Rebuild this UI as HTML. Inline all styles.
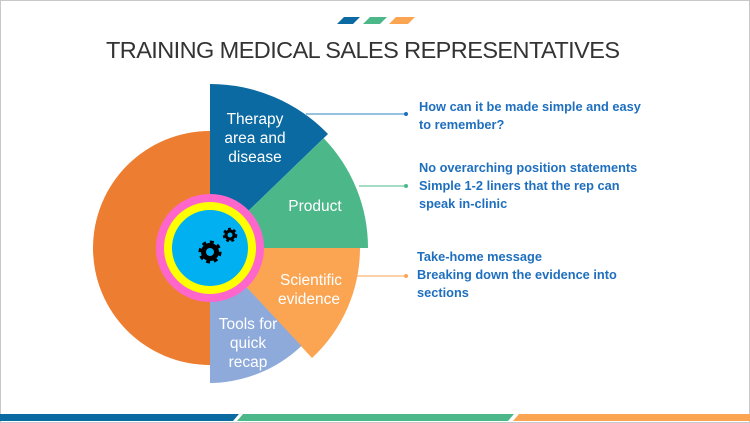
<!DOCTYPE html>
<html><head><meta charset="utf-8"><style>
html,body{margin:0;padding:0;background:#fff;}
body{width:750px;height:423px;position:relative;overflow:hidden;font-family:"Liberation Sans",sans-serif;}
.t{position:absolute;color:#1f6fbf;font-weight:bold;font-size:12.8px;line-height:18px;white-space:nowrap;}
</style></head><body>
<svg width="750" height="423" style="position:absolute;left:0;top:0">
<rect x="0.5" y="0.5" width="749" height="422" fill="none" stroke="#c8c8c8"/>
<polygon points="337,24 344,17 360,17 353,24" fill="#0a6aa1"/>
<polygon points="363,24 370,17 387,17 380,24" fill="#4cb88a"/>
<polygon points="389,24 396,17 415,17 408,24" fill="#fba552"/>
<polygon points="0,414 239,414 233,421 0,421" fill="#0a6aa1"/>
<polygon points="243,414 514,414 508,421 237,421" fill="#4cb88a"/>
<polygon points="519,414 750,414 750,421 513,421" fill="#fba552"/>
<text x="363" y="58" text-anchor="middle" font-family="Liberation Sans" font-size="23.5" fill="#333" textLength="514">TRAINING MEDICAL SALES REPRESENTATIVES</text>
<g transform="translate(210,248)">
<path d="M0,-117 A117,117 0 0 0 0,117 Z" fill="#ed7d31"/>
<path d="M0,0 L0,-164 A164,164 0 0 1 118,-114 Z" fill="#0a6aa1"/>
<path d="M0,0 L113.7,-109.8 A158,158 0 0 1 158,0 Z" fill="#4cb88a"/>
<path d="M0,0 L150,0 A150,150 0 0 1 102,110 Z" fill="#fba552"/>
<path d="M0,0 L91.4,98 A135,135 0 0 1 0,135 Z" fill="#8eaadb"/>
<circle r="54" fill="#ff66cc"/>
<circle r="46" fill="#ffff00"/>
<circle r="38" fill="#00b0f0"/>
<g fill="none" stroke="#000">
<circle cx="0" cy="4" r="9" stroke-width="5" stroke-dasharray="3.5 3.5"/>
<circle cx="0" cy="4" r="6.5" stroke-width="5"/>
<circle cx="20" cy="-13" r="5.5" stroke-width="3.5" stroke-dasharray="2.5 2.3"/>
<circle cx="20" cy="-13" r="4" stroke-width="3"/>
</g>
</g>
<g font-family="Liberation Sans" font-size="15.5" fill="#fff" text-anchor="middle">
<text x="255" y="124">Therapy</text><text x="255" y="143">area and</text><text x="255" y="162">disease</text>
<text x="315" y="211">Product</text>
<text x="311" y="285">Scientific</text><text x="309" y="304">evidence</text>
<text x="248" y="329">Tools for</text><text x="248" y="348">quick</text><text x="248" y="367">recap</text>
</g>
<line x1="306" y1="114" x2="406" y2="114" stroke="#2e86c1" stroke-width="1"/><circle cx="406" cy="114" r="2" fill="#1f6fbf"/>
<line x1="359" y1="186" x2="406" y2="186" stroke="#4cb88a" stroke-width="1"/><circle cx="406" cy="186" r="2" fill="#4cb88a"/>
<line x1="353" y1="276" x2="406" y2="276" stroke="#fba552" stroke-width="1"/><circle cx="406" cy="276" r="2" fill="#fba552"/>
</svg>
<div class="t" style="left:419px;top:98px">How can it be made simple and easy<br>to remember?</div>
<div class="t" style="left:419px;top:159px">No overarching position statements<br>Simple 1-2 liners that the rep can<br>speak in-clinic</div>
<div class="t" style="left:417px;top:248px">Take-home message<br>Breaking down the evidence into<br>sections</div>
</body></html>
